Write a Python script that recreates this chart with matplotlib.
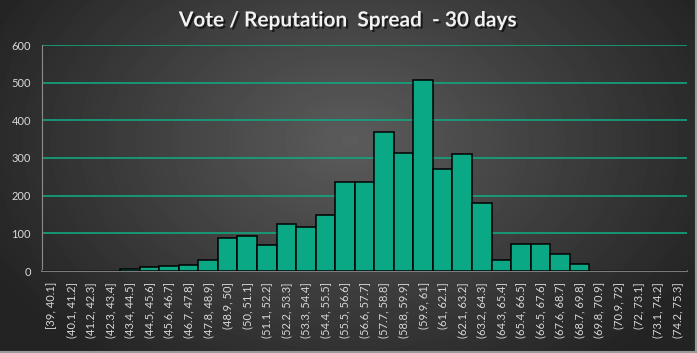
import numpy as np
import matplotlib
matplotlib.use("Agg")
import matplotlib.pyplot as plt
import matplotlib.patheffects as pe

plt.rcParams['font.family'] = ['Liberation Sans Narrow', 'Lato', 'DejaVu Sans']

# bin labels and counts
bins = ["[39, 40.1]", "(40.1, 41.2]", "(41.2, 42.3]", "(42.3, 43.4]", "(43.4, 44.5]",
        "(44.5, 45.6]", "(45.6, 46.7]", "(46.7, 47.8]", "(47.8, 48.9]", "(48.9, 50]",
        "(50, 51.1]", "(51.1, 52.2]", "(52.2, 53.3]", "(53.3, 54.4]", "(54.4, 55.5]",
        "(55.5, 56.6]", "(56.6, 57.7]", "(57.7, 58.8]", "(58.8, 59.9]", "(59.9, 61]",
        "(61, 62.1]", "(62.1, 63.2]", "(63.2, 64.3]", "(64.3, 65.4]", "(65.4, 66.5]",
        "(66.5, 67.6]", "(67.6, 68.7]", "(68.7, 69.8]", "(69.8, 70.9]", "(70.9, 72]",
        "(72, 73.1]", "(73.1, 74.2]", "(74.2, 75.3]"]
counts = [0, 1, 0, 0, 5, 10, 12, 16, 29, 87,
          92, 68, 124, 118, 148, 235, 235, 368, 312, 508,
          270, 310, 180, 28, 73, 71, 44, 18, 1, 1,
          0, 0, 0]

fig = plt.figure(figsize=(6.97, 3.53), dpi=100)

# radial gradient background
bg = fig.add_axes([0, 0, 1, 1])
yy, xx = np.mgrid[0:353, 0:697]
r = np.sqrt(((xx - 350) / 400.0) ** 2 + ((yy - 140) / 280.0) ** 2)
shade = np.clip(0.36 - 0.22 * r, 0.14, 0.36)
bg.imshow(shade, cmap="gray", vmin=0, vmax=1, aspect="auto", extent=[0, 1, 0, 1])
bg.set_axis_off()
# light border right/bottom
bg.plot([0.998, 0.998], [0, 1], color="#9a9a9a", lw=1.5, transform=bg.transAxes)
bg.plot([0, 1], [0.003, 0.003], color="#9a9a9a", lw=1.5, transform=bg.transAxes)
bg.set_xlim(0, 1)
bg.set_ylim(0, 1)

ax = fig.add_axes([42 / 697, 82 / 353, 645 / 697, 226 / 353])
ax.patch.set_alpha(0)
x = np.arange(len(bins))
ax.bar(x, counts, width=1.0, color="#0ba886", edgecolor="black", linewidth=1.1, zorder=3)

ax.set_xlim(-0.5, len(bins) - 0.5)
ax.set_ylim(0, 600)
ax.set_yticks(range(0, 601, 100))
ax.set_yticklabels([str(v) for v in range(0, 601, 100)], family=["Lato", "DejaVu Sans"])
ax.yaxis.grid(True, color="#12a67f", linewidth=1.2, zorder=0)
ax.set_axisbelow(True)
ax.set_xticks(x)
ax.set_xticklabels(bins, rotation=90, fontsize=8, color="#d9d9d9")
ax.tick_params(axis="y", labelsize=8, labelcolor="#d9d9d9", length=0, pad=8)
ax.tick_params(axis="x", length=0, pad=8)
for side in ["top", "right"]:
    ax.spines[side].set_visible(False)
ax.spines["left"].set_color("#8c8c8c")
ax.spines["bottom"].set_color("#8c8c8c")
ax.spines["bottom"].set_linewidth(1.2)

fig.text(0.5, 0.942, "Vote / Reputation  Spread  - 30 days", ha="center", va="center",
         fontsize=15, fontweight="bold", color="#f2f2f2", family=["Lato", "DejaVu Sans"],
         path_effects=[pe.withSimplePatchShadow(offset=(1.5, -1.5), shadow_rgbFace="black", alpha=0.6)])

fig.savefig("out.png", dpi=100)
